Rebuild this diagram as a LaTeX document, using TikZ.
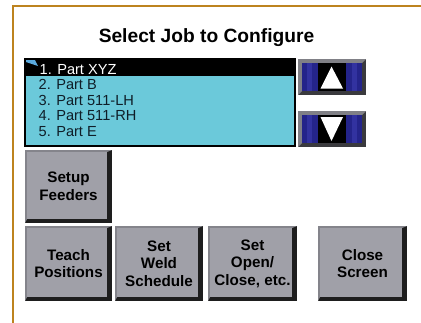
\documentclass[tikz,border=0pt]{standalone}
\usepackage{fontspec}
\setmainfont{Liberation Sans}
\definecolor{frameorange}{HTML}{BD831F}
\definecolor{listcyan}{HTML}{6BC9DA}
\definecolor{listtext}{HTML}{0F1E28}
\definecolor{btnface}{HTML}{A0A0A8}
\definecolor{btnedge}{HTML}{84848B}
\definecolor{btndark}{HTML}{1E1E1E}
\definecolor{arrblue}{HTML}{24248A}
\definecolor{arrblue2}{HTML}{3232A0}
\definecolor{arredge}{HTML}{808086}
\definecolor{arrdark}{HTML}{3A3A3E}
\tikzset{
  pushbtn/.style 2 args={minimum width=#1pt, minimum height=#2pt, inner sep=0pt,
    fill=btndark, align=center, text=black,
    font=\fontsize{15.2}{17.6}\selectfont\bfseries,
    path picture={
      \fill[btnedge] (path picture bounding box.north west) -- (path picture bounding box.north east)
        -- ([xshift=-5pt,yshift=-2pt]path picture bounding box.north east)
        -- ([xshift=2pt,yshift=-2pt]path picture bounding box.north west)
        -- ([xshift=2pt,yshift=4pt]path picture bounding box.south west)
        -- (path picture bounding box.south west) -- cycle;
      \fill[btnface] ([xshift=2pt,yshift=-2pt]path picture bounding box.north west)
        rectangle ([xshift=-5pt,yshift=4pt]path picture bounding box.south east);
    }},
  arrowbtn/.style={minimum width=68pt, minimum height=36pt, inner sep=0pt, fill=arrdark,
    path picture={
      \fill[arredge] (path picture bounding box.north west) -- (path picture bounding box.north east)
        -- ([xshift=-4pt,yshift=-4pt]path picture bounding box.north east)
        -- ([xshift=4pt,yshift=-4pt]path picture bounding box.north west)
        -- ([xshift=4pt,yshift=4pt]path picture bounding box.south west)
        -- (path picture bounding box.south west) -- cycle;
      \fill[arrblue] ([xshift=4pt,yshift=-4pt]path picture bounding box.north west)
        rectangle ([xshift=-4pt,yshift=4pt]path picture bounding box.south east);
      \fill[arrblue2] ([xshift=9pt,yshift=-4pt]path picture bounding box.north west)
        rectangle ([xshift=14pt,yshift=4pt]path picture bounding box.south west);
      \fill[arrblue2] ([xshift=-14pt,yshift=-4pt]path picture bounding box.north east)
        rectangle ([xshift=-9pt,yshift=4pt]path picture bounding box.south east);
      \fill[black] ([xshift=-14pt,yshift=-4pt]path picture bounding box.north)
        rectangle ([xshift=14pt,yshift=4pt]path picture bounding box.south);
    }},
  listline/.style={anchor=base west, inner sep=0pt, text=listtext,
    font=\fontsize{14.6}{15.5}\selectfont}
}
\begin{document}
\begin{tikzpicture}[x=1pt,y=-1pt]
\useasboundingbox (0,0) rectangle (421,322);
\fill[white] (0,0) rectangle (421,322);
% frame
\draw[frameorange, line width=2.5pt] (13,325) -- (13,6) -- (425,6);
% title
\node[anchor=base, inner sep=0pt, font=\fontsize{19.2}{20}\selectfont\bfseries] (title) at (206.5,42.5) {Select Job to Configure};
% list
\node[minimum width=270pt, minimum height=87pt, inner sep=0pt, fill=listcyan, draw=black, line width=2pt] (list) at (160,102.5) {};
\fill[black] (list.north west) rectangle ([yshift=-18pt]list.north east);
\fill[listcyan!85!blue] (26,60) -- (35,60) -- (38,66) -- (26,62) -- cycle;
\node[listline, text=white] (l1) at (39.5,74) {1. Part XYZ};
\node[listline] (l2) at (38.5,89.5) {2. Part B};
\node[listline] (l3) at (38.5,105) {3. Part 511-LH};
\node[listline] (l4) at (38.5,120.5) {4. Part 511-RH};
\node[listline] (l5) at (38.5,136) {5. Part E};
% arrow buttons
\node[arrowbtn] (up) at (332,77) {};
\fill[white] (331.5,66.5) -- (343,88.5) -- (320.5,88.5) -- cycle;
\node[arrowbtn] (down) at (332,129) {};
\fill[white] (320.5,117) -- (343,117) -- (331.5,141) -- cycle;
% push buttons
\node[pushbtn={87}{73}] (setup) at (68.5,186.5) {Setup\\Feeders};
\node[pushbtn={87}{75}] (teach) at (68.5,263.5) {Teach\\Positions};
\node[pushbtn={88}{75}] (weld) at (159,263.5) {Set\\Weld\\Schedule};
\node[pushbtn={89}{75}] (open) at (252.5,263.5) {Set\\Open/\\Close, etc.};
\node[pushbtn={89}{75}] (close) at (362.5,263.5) {Close\\Screen};
\end{tikzpicture}
\end{document}
